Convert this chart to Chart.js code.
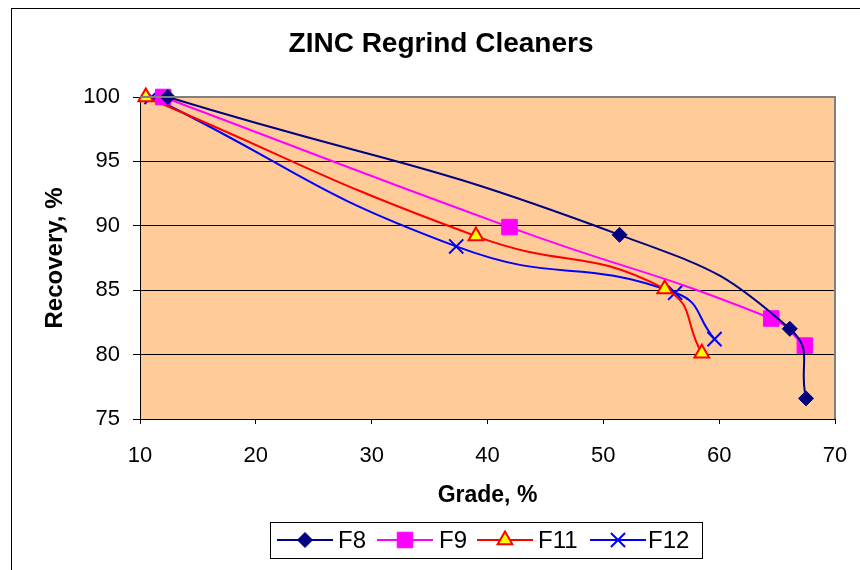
<!DOCTYPE html>
<html>
<head>
<meta charset="utf-8">
<script src="https://cdn.jsdelivr.net/npm/chart.js@4"></script>
<style>
  body { margin: 0; background: #fff; }
  #chart { display: block; }
</style>
</head>
<body>
<canvas id="chart" width="860" height="570"></canvas>
<script>
// ZINC regrind cleaners: grade vs recovery for four flotation tests

const seriesNames = ["F8", "F9", "F11", "F12"];

const f8Grade = [12.4, 51.4, 66.1, 67.5];
const f8Recovery = [100, 89.3, 82.0, 76.6];

const f9Grade = [12.0, 41.9, 64.5, 67.4];
const f9Recovery = [100, 89.9, 82.8, 80.7];

const f11Grade = [10.5, 39.0, 55.3, 58.5];
const f11Recovery = [100, 89.2, 85.1, 80.1];

const f12Grade = [11.0, 37.3, 56.2, 59.6];
const f12Recovery = [100, 88.4, 84.8, 81.2];

const xTicks = [10, 20, 30, 40, 50, 60, 70];
const yTicks = [75, 80, 85, 90, 95, 100];

const fontFamily = "'Liberation Sans', Arial, sans-serif";

function toPoints(xs, ys) {
  return xs.map((x, i) => ({ x, y: ys[i] }));
}

const styles = [
  { color: "#000080", fill: "#000080", pointStyle: "rectRot", radius: 7.5 },
  { color: "#ff00ff", fill: "#ff00ff", pointStyle: "rect", radius: 11 },
  { color: "#ff0000", fill: "#ffff00", pointStyle: "triangle", radius: 8.5, borderWidth: 2 },
  { color: "#0000ff", fill: "#0000ff", pointStyle: "crossRot", radius: 10, borderWidth: 2 },
];

const seriesData = [
  toPoints(f8Grade, f8Recovery),
  toPoints(f9Grade, f9Recovery),
  toPoints(f11Grade, f11Recovery),
  toPoints(f12Grade, f12Recovery),
];

const datasets = seriesNames.map((name, i) => ({
  label: name,
  data: seriesData[i],
  showLine: true,
  tension: 0.5,
  borderColor: styles[i].color,
  borderWidth: 2,
  pointStyle: styles[i].pointStyle,
  pointRadius: styles[i].radius,
  pointHoverRadius: styles[i].radius,
  pointBackgroundColor: styles[i].fill,
  pointBorderColor: styles[i].color,
  pointBorderWidth: styles[i].borderWidth || 1,
  clip: false,
}));

// plot background, frame, title and boxed legend
const decorations = {
  id: "decorations",
  beforeDraw(chart) {
    const { ctx, chartArea: a } = chart;
    ctx.save();
    ctx.fillStyle = "#fff";
    ctx.fillRect(0, 0, chart.width, chart.height);
    ctx.strokeStyle = "#000";
    ctx.lineWidth = 1;
    ctx.strokeRect(11.5, 8.5, 900, 600);
    ctx.fillStyle = "#ffcc99";
    ctx.fillRect(a.left, a.top, a.right - a.left, a.bottom - a.top);
    ctx.restore();
  },
  afterDatasetsDraw(chart) {
    const { ctx, chartArea: a } = chart;
    ctx.save();
    ctx.strokeStyle = "#808080";
    ctx.lineWidth = 2;
    ctx.beginPath();
    ctx.moveTo(a.left, a.top);
    ctx.lineTo(a.right, a.top);
    ctx.lineTo(a.right, a.bottom);
    ctx.stroke();

    ctx.fillStyle = "#000";
    ctx.font = "bold 28px " + fontFamily;
    ctx.textAlign = "center";
    ctx.textBaseline = "middle";
    ctx.fillText("ZINC Regrind Cleaners", 441, 44);

    // legend
    ctx.lineWidth = 1;
    ctx.strokeStyle = "#000";
    ctx.strokeRect(270.5, 522.5, 432, 36);
    const lineX = [277, 377, 477, 590];
    const textX = [338, 439, 538, 648];
    const cy = 540;
    ctx.font = "24px " + fontFamily;
    ctx.textAlign = "left";
    seriesNames.forEach((name, i) => {
      const s = styles[i];
      ctx.strokeStyle = s.color;
      ctx.lineWidth = 2;
      ctx.beginPath();
      ctx.moveTo(lineX[i], cy);
      ctx.lineTo(lineX[i] + 56, cy);
      ctx.stroke();
      ctx.fillStyle = s.fill;
      ctx.strokeStyle = s.color;
      ctx.lineWidth = s.borderWidth || 1;
      Chart.helpers.drawPoint(ctx, {
        pointStyle: s.pointStyle,
        radius: s.radius,
        rotation: 0,
        borderWidth: s.borderWidth || 1,
      }, lineX[i] + 28, cy);
      ctx.fillStyle = "#000";
      ctx.fillText(name, textX[i], cy + 1);
    });
    ctx.restore();
  },
};

new Chart(document.getElementById("chart"), {
  type: "scatter",
  data: { datasets },
  options: {
    responsive: false,
    animation: false,
    layout: { padding: { left: 0, right: 25, top: 97, bottom: 0 } },
    plugins: {
      legend: { display: false },
      title: { display: false },
      tooltip: { enabled: false },
    },
    scales: {
      x: {
        type: "linear",
        min: 10,
        max: 70,
        afterFit: (scale) => {
          scale.height = 151;
          scale.paddingLeft = 0;
          scale.paddingRight = 0;
        },
        afterBuildTicks: (scale) => { scale.ticks = xTicks.map((v) => ({ value: v })); },
        ticks: {
          color: "#000",
          font: { family: fontFamily, size: 22 },
          padding: 19,
          maxRotation: 0,
        },
        grid: { drawOnChartArea: false, drawTicks: true, tickLength: 5, color: "#000" },
        border: { color: "#000", width: 1 },
        title: {
          display: true,
          text: "Grade, %",
          color: "#000",
          font: { family: fontFamily, size: 23, weight: "bold" },
          padding: { top: 0, bottom: 61 },
        },
      },
      y: {
        type: "linear",
        min: 75,
        max: 100,
        afterFit: (scale) => {
          scale.width = 140;
          scale.paddingTop = 0;
          scale.paddingBottom = 0;
        },
        afterBuildTicks: (scale) => { scale.ticks = yTicks.map((v) => ({ value: v })); },
        ticks: {
          color: "#000",
          font: { family: fontFamily, size: 22 },
          padding: 13,
        },
        grid: {
          color: (c) => (c.tick && c.tick.value === 100 ? "#808080" : "#000"),
          tickColor: "#000",
          tickLength: 7,
        },
        border: { color: "#000", width: 1 },
        title: {
          display: true,
          text: "Recovery, %",
          color: "#000",
          font: { family: fontFamily, size: 24, weight: "bold" },
          padding: { top: 41, bottom: 0 },
        },
      },
    },
  },
  plugins: [decorations],
});
</script>
</body>
</html>
